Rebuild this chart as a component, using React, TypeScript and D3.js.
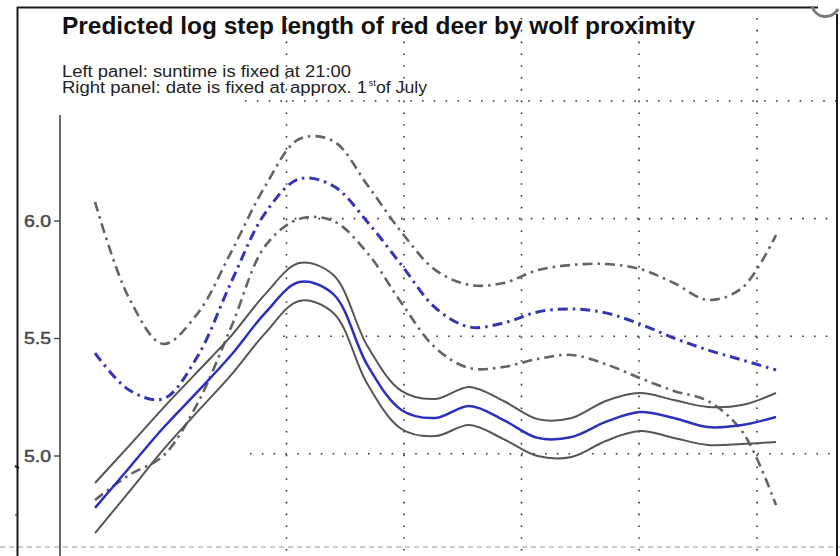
import React from "react";
import * as d3 from "d3";

// x positions (arbitrary date index across the panel, 0–100)
const xVals = [0, 5, 10, 15, 20, 25, 30, 35, 40, 45, 50, 55, 60, 65, 70, 75, 80, 85, 90, 95, 100];

// solid set (blue mean with grey confidence band)
const solidMean = [4.779, 4.949, 5.119, 5.272, 5.43, 5.609, 5.74, 5.689, 5.387, 5.196, 5.162, 5.213, 5.153, 5.077, 5.081, 5.145, 5.187, 5.162, 5.123, 5.132, 5.166];
const solidUpper = [4.885, 5.043, 5.204, 5.357, 5.511, 5.689, 5.821, 5.77, 5.468, 5.277, 5.243, 5.294, 5.234, 5.157, 5.162, 5.234, 5.268, 5.238, 5.209, 5.217, 5.268];
const solidLower = [4.672, 4.847, 5.026, 5.187, 5.345, 5.523, 5.66, 5.609, 5.306, 5.115, 5.085, 5.132, 5.072, 5.0, 4.996, 5.064, 5.106, 5.077, 5.047, 5.051, 5.06];

// dash-dot set (blue mean with grey confidence band)
const dashMean = [5.438, 5.281, 5.243, 5.421, 5.74, 6.034, 6.179, 6.149, 5.996, 5.813, 5.63, 5.549, 5.566, 5.613, 5.626, 5.609, 5.562, 5.502, 5.451, 5.409, 5.366];
const dashUpper = [6.081, 5.672, 5.477, 5.604, 5.868, 6.149, 6.349, 6.34, 6.153, 5.953, 5.791, 5.728, 5.736, 5.791, 5.813, 5.817, 5.796, 5.736, 5.664, 5.715, 5.94];
const dashLower = [4.813, 4.919, 5.0, 5.221, 5.549, 5.894, 6.009, 6.0, 5.864, 5.651, 5.46, 5.374, 5.379, 5.413, 5.43, 5.391, 5.332, 5.277, 5.234, 5.106, 4.791];

const yTicks = [5.0, 5.5, 6.0];
const yTickLabels = ["5.0", "5.5", "6.0"];

// decorative dotted layout grid
const gridX = [286.5, 404, 521.5, 639, 757];
const gridRows = [
  { y: 101, x0: 245 },
  { y: 218.6, x0: 283 },
  { y: 336.2, x0: 283 },
  { y: 453.8, x0: 250 },
];

export default function App() {
  const W = 840;
  const H = 556;
  const x = d3.scaleLinear().domain([0, 100]).range([95, 776]);
  const y = d3.scaleLinear().domain([5, 6]).range([456, 221]);

  const mk = (vals: number[]) =>
    d3
      .line<number>()
      .x((_, i) => x(xVals[i]))
      .y((v) => y(v))
      .curve(d3.curveCatmullRom.alpha(0.5))(vals) as string;

  const blue = "#2c30bd";
  const grey = "#555555";
  const greyDash = "#636363";
  const dashPattern = "10 5 2.5 5";
  const font = "'Liberation Sans', Arial, sans-serif";

  return (
    <svg
      width={W}
      height={H}
      style={{ position: "absolute", left: 0, top: 0, background: "#fff" }}
      fontFamily={font}
    >
      <rect x={0} y={0} width={W} height={H} fill="#fff" />

      {/* dotted layout grid */}
      {gridX.map((gx) => (
        <line key={"gx" + gx} x1={gx} x2={gx} y1={18} y2={H} stroke="#333" strokeWidth={1.6} strokeDasharray="1.6 10.2" />
      ))}
      {gridRows.map((r) => (
        <line key={"gy" + r.y} x1={r.x0} x2={836} y1={r.y} y2={r.y} stroke="#333" strokeWidth={1.6} strokeDasharray="1.6 10.2" />
      ))}

      {/* bottom dashed line */}
      <line x1={0} x2={W} y1={547} y2={547} stroke="#9a9a9a" strokeWidth={1} strokeDasharray="5 4" />

      {/* frame */}
      <line x1={17.5} x2={17.5} y1={7} y2={H} stroke="#1a1a1a" strokeWidth={2} />
      <line x1={17} x2={818} y1={7.5} y2={7.5} stroke="#1a1a1a" strokeWidth={2} />
      <line x1={837} x2={837} y1={14} y2={H} stroke="#1a1a1a" strokeWidth={2} />
      <path d="M 812 6 A 14 14 0 0 0 838 9" fill="none" stroke="#7a7a7a" strokeWidth={3} />
      <line x1={15} x2={19} y1={466} y2={468} stroke="#1a1a1a" strokeWidth={2} />
      <line x1={15} x2={18} y1={515} y2={515} stroke="#1a1a1a" strokeWidth={1} />

      {/* title and subtitle */}
      <text x={62} y={34} fontSize={23} fontWeight="bold" fill="#111" textLength={633} lengthAdjust="spacingAndGlyphs">
        Predicted log step length of red deer by wolf proximity
      </text>
      <text x={62} y={77} fontSize={16} fill="#222" textLength={289} lengthAdjust="spacingAndGlyphs">
        Left panel: suntime is fixed at 21:00
      </text>
      <text x={62} y={93} fontSize={16} fill="#222" textLength={305} lengthAdjust="spacingAndGlyphs">
        Right panel: date is fixed at approx. 1
      </text>
      <text x={368.5} y={86} fontSize={9.5} fill="#222">
        st
      </text>
      <text x={376} y={93} fontSize={16} fill="#222" textLength={51} lengthAdjust="spacingAndGlyphs">
        of July
      </text>

      {/* y axis */}
      <line x1={60} x2={60} y1={115} y2={H} stroke="#444" strokeWidth={1.6} />
      {yTicks.map((t, i) => (
        <g key={"t" + t}>
          <line x1={54} x2={60} y1={y(t)} y2={y(t)} stroke="#444" strokeWidth={1.4} />
          <text
            x={51}
            y={y(t)}
            dy="0.36em"
            textAnchor="end"
            fontSize={16}
            fill="#4a4a4a"
            stroke="#4a4a4a"
            strokeWidth={0.5}
            textLength={27}
            lengthAdjust="spacingAndGlyphs"
          >
            {yTickLabels[i]}
          </text>
        </g>
      ))}

      {/* dash-dot curves */}
      <path d={mk(dashUpper)} fill="none" stroke={greyDash} strokeWidth={2.6} strokeDasharray={dashPattern} />
      <path d={mk(dashLower)} fill="none" stroke={greyDash} strokeWidth={2.6} strokeDasharray={dashPattern} />
      <path d={mk(dashMean)} fill="none" stroke="#3434b4" strokeWidth={3} strokeDasharray={dashPattern} />

      {/* solid curves */}
      <path d={mk(solidUpper)} fill="none" stroke={grey} strokeWidth={2} />
      <path d={mk(solidLower)} fill="none" stroke={grey} strokeWidth={2} />
      <path d={mk(solidMean)} fill="none" stroke={blue} strokeWidth={2.5} />
    </svg>
  );
}
